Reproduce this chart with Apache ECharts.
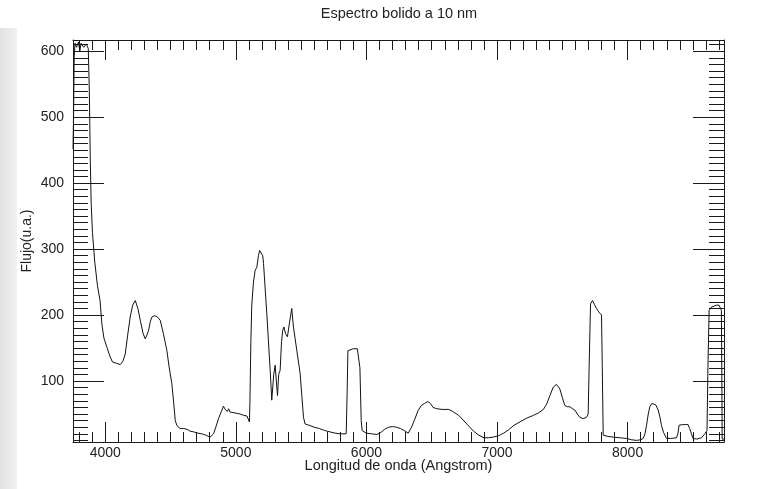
<!DOCTYPE html>
<html><head><meta charset="utf-8">
<script src="https://cdn.jsdelivr.net/npm/echarts@6/dist/echarts.min.js"></script>
<style>html,body{margin:0;padding:0;background:#fff;}#c{width:780px;height:489px;filter:blur(0.45px);}</style>
</head><body><div id="c"></div>
<script>
const titleText = 'Espectro bolido a 10 nm';
const xName = 'Longitud de onda (Angstrom)';
const yName = 'Flujo(u.a.)';
const xRange = [3753, 8738];
const yRange = [7.6, 617];
const wavelength = [
3753,3757,3762,3768,3780,3795,3805,3815,3835,3855,3870,3878,3885,3892,3902,3920,3940,3960,3975,3990,
4013,4035,4055,4085,4115,4135,4153,4172,4191,4210,4230,4250,4268,4290,4306,4320,4332,4345,4357,4375,
4395,4421,4445,4472,4490,4510,4525,4536,4550,4574,4600,4625,4650,4676,4710,4740,4770,4803,4829,4850,
4867,4885,4905,4918,4925,4935,4945,4955,4965,4985,5010,5033,5060,5085,5097,5104,5108,5115,5122,5135,
5148,5160,5173,5182,5195,5206,5212,5237,5263,5275,5290,5301,5310,5319,5328,5339,5350,5359,5368,5380,
5395,5408,5420,5428,5441,5467,5492,5518,5530,5561,5600,5640,5680,5720,5760,5800,5845,5852,5858,5870,
5900,5930,5940,5950,5960,5967,6000,6040,6080,6110,6140,6170,6200,6230,6260,6290,6320,6345,6370,6395,
6420,6445,6470,6490,6510,6540,6580,6630,6660,6706,6740,6782,6820,6859,6900,6935,6970,7011,7050,7088,
7130,7183,7230,7279,7320,7355,7380,7405,7431,7455,7470,7481,7500,7519,7540,7558,7578,7596,7615,7634,
7660,7685,7698,7705,7716,7731,7746,7762,7778,7792,7800,7806,7813,7850,7890,7940,7992,8030,8068,8100,
8119,8133,8145,8158,8170,8185,8200,8215,8234,8248,8259,8275,8298,8330,8374,8385,8394,8420,8445,8463,
8475,8489,8501,8530,8565,8591,8608,8615,8624,8640,8654,8680,8700,8712,8718,8721,8724,8738
];
const flux = [
452,500,590,612,606,614,600,612,606,611,604,540,440,370,325,280,245,222,185,165,
151,138,129,127,125,130,141,170,197,215,222,210,192,172,164,170,177,190,197,199,
198,192,172,146,120,96,65,40,32,28,28,27,24,23,21,20,18,15,20,32,
43,52,62,57,60,54,58,53,55,52,51,50,48,47,45,38,70,160,215,250,
268,272,290,298,296,290,278,202,116,71,110,124,100,78,110,116,160,177,182,172,
167,185,200,210,182,146,112,45,35,33,30,28,25,23,21,20,20,80,146,149,
149,149,146,120,40,25,21,20,19,22,27,30,31,30,28,25,21,30,42,55,
63,66,69,66,60,58,57,57,54,48,41,32,24,18,14,14,15,17,21,26,
33,39,44,48,52,57,65,78,91,95,94,88,75,63,61,61,58,56,50,45,
43,45,50,120,217,222,216,210,205,202,200,120,18,16,15,14,13,11,10,11,
13,20,33,50,61,66,68,64,56,45,33,22,13,13,14,20,33,34,34,34,
28,20,13,12,14,20,25,120,207,212,215,215,215,212,207,120,12,12
];

const ink = '#1a1a1a';
const txt = '#222';
const font = 'Liberation Sans, Arial, Helvetica, sans-serif';
const lineSt = {color: ink, width: 1};
const plain = v => String(Math.round(v));

function xAx(pos, withLabels) {
  return {
    type: 'value', position: pos, min: xRange[0], max: xRange[1],
    axisLine: {show: true, onZero: false, lineStyle: lineSt},
    axisTick: {show: true, inside: true, length: 20, lineStyle: lineSt},
    minorTick: {show: true, splitNumber: 10, length: 10, lineStyle: lineSt},
    splitLine: {show: false}, minorSplitLine: {show: false},
    axisLabel: {show: withLabels, margin: 4, fontSize: 14, color: txt, fontFamily: font,
      showMinLabel: false, showMaxLabel: false, formatter: plain},
    name: withLabels ? xName : '', nameLocation: 'middle', nameGap: 16, nameMoveOverlap: false,
    nameTextStyle: {fontSize: 14.5, color: txt, fontFamily: font}
  };
}
function yAx(pos, withLabels) {
  return {
    type: 'value', position: pos, min: yRange[0], max: yRange[1],
    axisLine: {show: true, onZero: false, lineStyle: lineSt},
    axisTick: {show: true, inside: true, length: 31, lineStyle: lineSt},
    minorTick: {show: true, splitNumber: 10, length: 15, lineStyle: lineSt},
    splitLine: {show: false}, minorSplitLine: {show: false},
    axisLabel: {show: withLabels, margin: 9, fontSize: 14, color: txt, fontFamily: font,
      showMinLabel: false, showMaxLabel: false, formatter: plain},
    name: withLabels ? yName : '', nameLocation: 'middle', nameGap: 39, nameMoveOverlap: false,
    nameTextStyle: {fontSize: 14, color: txt, fontFamily: font}
  };
}

const chart = echarts.init(document.getElementById('c'), null, {renderer: 'canvas'});
chart.setOption({
  animation: false,
  backgroundColor: '#ffffff',
  grid: {left: 73, right: 56, top: 40, bottom: 47},
  graphic: [
    {type: 'rect', z: -10, shape: {x: 0, y: 28, width: 17, height: 461},
     style: {fill: new echarts.graphic.LinearGradient(0, 0, 1, 0, [
       {offset: 0, color: '#e2e2e2'}, {offset: 1, color: '#f1f1f1'}])}},
    {type: 'text', x: 399, y: 6, style: {text: titleText, textAlign: 'center', textVerticalAlign: 'top',
     font: '14.5px ' + font, fill: txt}}
  ],
  xAxis: [xAx('bottom', true), xAx('top', false)],
  yAxis: [yAx('left', true), yAx('right', false)],
  series: [{
    type: 'line', xAxisIndex: 0, yAxisIndex: 0,
    data: wavelength.map((w, i) => [w, flux[i]]),
    showSymbol: false, symbol: 'none',
    lineStyle: {color: '#111', width: 1}
  }]
});
</script></body></html>
